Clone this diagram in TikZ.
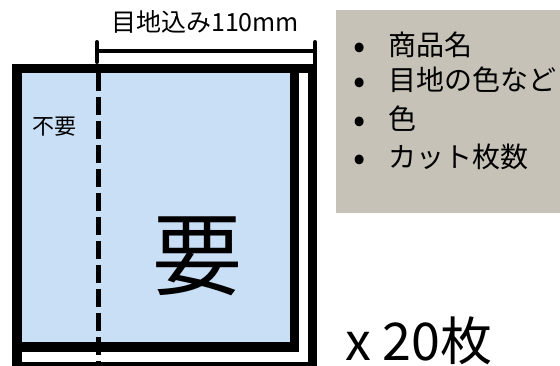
\documentclass[tikz,border=0pt]{standalone}
\usepackage{fontspec}
\setmainfont{Noto Sans CJK JP}
\definecolor{tileblue}{RGB}{201,223,246}
\definecolor{notegray}{RGB}{198,194,183}
\newcommand{\lstbullet}{\makebox[38pt][l]{\hspace{3pt}\fontsize{36}{36}\selectfont\raisebox{-3pt}{•}}}
\tikzset{
  frame/.style={line width=9.5pt},
  txt/.style={inner sep=0pt, anchor=base west, text=black},
  listtxt/.style={txt, font=\fontsize{28}{32}\selectfont},
  dimline/.style={line width=4pt, line cap=round},
  cutline/.style={line width=5pt, dash pattern=on 18pt off 6pt},
}
\begin{document}
\begin{tikzpicture}[x=1pt,y=-1pt]
\useasboundingbox (0,0) rectangle (560,365);
\clip (0,0) rectangle (560,365);
% note box
\fill[notegray] (336,10) rectangle (560,213);
% outer frame
\draw[frame, fill=white] (17,68.5) rectangle (312.5,367);
% inner tile
\draw[frame, fill=tileblue] (17,68.5) rectangle (294.5,347);
% cut line
\coordinate (cutT) at (98,73);
\coordinate (cutB) at (98,366);
\draw[cutline] (cutT) -- (cutB);
% dimension
\coordinate (dL) at (97,51);
\coordinate (dR) at (315,51);
\coordinate (dLt) at (97,42);
\coordinate (dLb) at (97,62);
\coordinate (dRt) at (315,42);
\coordinate (dRb) at (315,64);
\draw[dimline] (dL) -- (dR);
\draw[dimline] (dLt) -- (dLb);
\draw[dimline] (dRt) -- (dRb);
\node[txt, font=\fontsize{25}{29}\selectfont] (dimtxt) at (111,31.5) {目地込み110mm};
\node[txt, font=\fontsize{22}{26}\selectfont] (fuyou) at (32,134) {不要};
\node[txt, font=\fontsize{90}{100}\selectfont] (you) at (152,288) {要};
% list
\node[listtxt] (l1) at (350,55) {\lstbullet 商品名};
\node[listtxt] (l2) at (350,90) {\lstbullet 目地の色など};
\node[listtxt] (l3) at (350,129) {\lstbullet 色};
\node[listtxt] (l4) at (350,167) {\lstbullet カット枚数};
\node[txt, font=\fontsize{52}{60}\selectfont] (count) at (345,360) {x 20枚};
\end{tikzpicture}
\end{document}
